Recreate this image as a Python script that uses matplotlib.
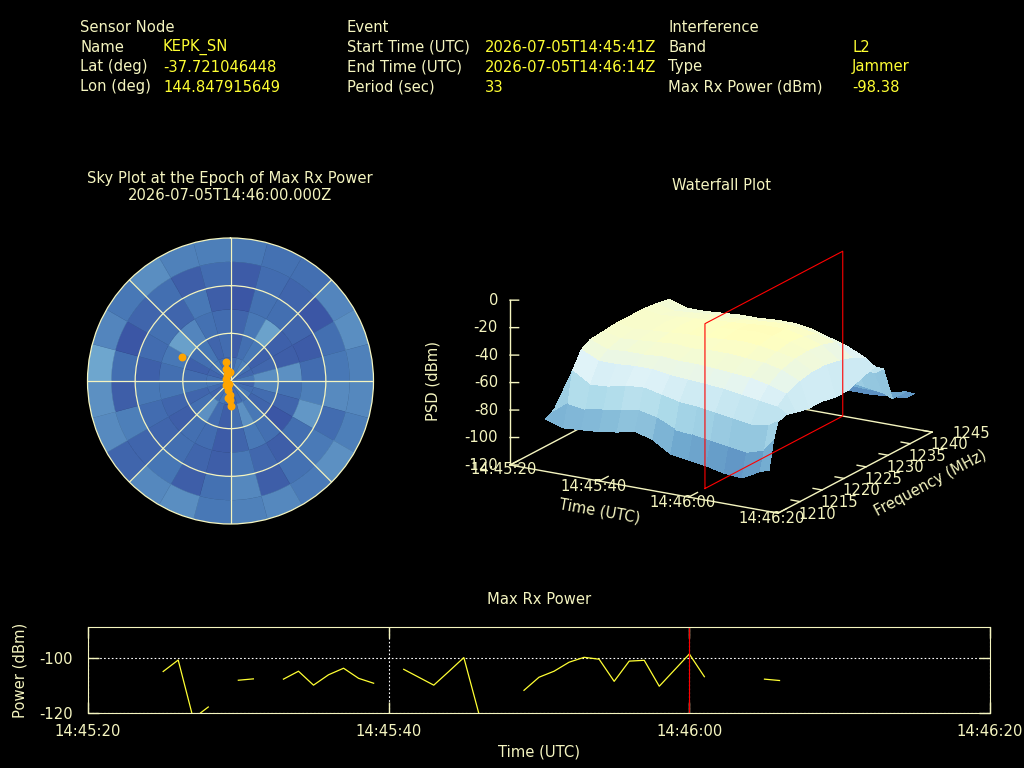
import numpy as np
import matplotlib
matplotlib.use('Agg')
import matplotlib.pyplot as plt
from mpl_toolkits.mplot3d import proj3d

FG = '#f5f5c0'
YEL = '#ffff33'
cmap = plt.get_cmap('RdYlBu_r')
norm = plt.Normalize(-120, 66)

# header block
col1 = ['Sensor Node', 'Name', 'Lat (deg)', 'Lon (deg)']
val1 = ['', 'KEPK_SN', '-37.721046448', '144.847915649']
col2 = ['Event', 'Start Time (UTC)', 'End Time (UTC)', 'Period (sec)']
val2 = ['', '2026-07-05T14:45:41Z', '2026-07-05T14:46:14Z', '33']
col3 = ['Interference', 'Band', 'Type', 'Max Rx Power (dBm)']
val3 = ['', 'L2', 'Jammer', '-98.38']

# max rx power, seconds after 14:45:20
power_t = [5, 6, 7, 8, 9, 10, 11, 12, 13, 14, 15, 16, 17, 18, 19, 20, 21, 22, 23, 24, 25, 26, 27, 28,
           29, 30, 31, 32, 33, 34, 35, 36, 37, 38, 39, 40, 41, 42, 43, 44, 45, 46]
power_db = [-104.8, -100.6, -122, -117.8, np.nan, -108, -107.5, np.nan, -107.6, -104.7, -109.8, -106,
            -103.6, -107.3, -109.1, np.nan, -104, -106.9, -109.8, -104.8, -99.7, -120.2, np.nan, np.nan,
            -111.7, -106.9, -104.7, -101.4, -99.6, -100.3, -108.4, -101, -100.7, -110.2, -104.3, -98.4,
            -106.7, np.nan, np.nan, np.nan, -107.6, -108.1]
time_labels = ['14:45:20', '14:45:40', '14:46:00', '14:46:20']
time_ticks = [0, 20, 40, 60]

# sky plot cells, rows are zenith-angle rings, columns 15 deg azimuth sectors
ring_edges = [0, 15, 30, 45, 60, 75, 90]
sky_db = [
    [-104, -100, -98, -103, -105, -100, -106, -104, -100, -102, -104, -106, -104, -101, -103, -106, -104, -100, -103, -106, -104, -101, -103, -105],
    [-108, -103, -100, -107, -105, -93, -96, -104, -106, -100, -92, -103, -108, -104, -92, -103, -106, -100, -104, -107, -103, -101, -106, -104],
    [-106, -100, -86, -107, -108, -92, -102, -106, -110, -103, -100, -106, -109, -104, -103, -108, -106, -101, -103, -100, -87, -96, -102, -104],
    [-110, -102, -103, -106, -109, -104, -98, -90, -103, -108, -105, -100, -108, -106, -103, -106, -104, -100, -107, -104, -102, -106, -100, -108],
    [-109, -104, -106, -110, -103, -100, -94, -104, -99, -102, -108, -95, -102, -108, -101, -106, -98, -108, -103, -110, -106, -103, -108, -104],
    [-100, -102, -103, -96, -93, -97, -95, -98, -92, -99, -95, -97, -100, -93, -95, -106, -94, -92, -85, -96, -100, -93, -97, -98],
]

# signal markers on the sky plot
sat_az = [296, 347, 347, 354, 331, 293, 225, 194, 184, 182, 179, 200, 340, 188]
sat_zen = [34, 12, 6.7, 5.9, 4.3, 3.2, 3.6, 5.8, 8.8, 12, 15.7, 2, 8, 10.5]

# waterfall, rows are seconds after 14:45:20, columns MHz
wf_t = [8, 12, 16, 20, 24, 28, 32, 36, 40, 44, 48, 52, 56, 58]
wf_f = [1210, 1211, 1212, 1214, 1216, 1219, 1222, 1225, 1228, 1231, 1234, 1236, 1238, 1241, 1243]
wf_db = [
    [-82, -80, -78, -74, -72, -70, -68, -66, -64, -62, -62, -60, -62, -75, -90],
    [-86, -70, -48, -36, -32, -31, -30, -30, -30, -31, -33, -50, -70, -85, -95],
    [-85, -72, -56, -42, -37, -34, -32, -31, -32, -34, -37, -55, -75, -88, -96],
    [-84, -70, -55, -42, -36, -33, -31, -30, -31, -33, -37, -56, -76, -87, -95],
    [-82, -68, -52, -41, -36, -32, -30, -29, -30, -32, -36, -54, -74, -86, -95],
    [-79, -66, -51, -41, -35, -31, -29, -28, -29, -32, -35, -53, -73, -85, -94],
    [-83, -69, -54, -43, -36, -32, -29, -27, -28, -31, -35, -52, -72, -86, -95],
    [-91, -75, -57, -44, -36, -31, -28, -26, -27, -30, -34, -52, -72, -86, -96],
    [-93, -76, -58, -45, -37, -31, -27, -25, -26, -29, -34, -52, -73, -87, -95],
    [-95, -78, -60, -46, -38, -32, -28, -26, -26, -30, -36, -55, -75, -87, -96],
    [-98, -80, -62, -48, -39, -33, -30, -28, -29, -32, -40, -58, -78, -88, -96],
    [-99, -82, -64, -50, -42, -36, -33, -32, -33, -36, -44, -62, -80, -88, -95],
    [-92, -78, -62, -52, -46, -42, -40, -40, -42, -45, -50, -64, -82, -87, -94],
    [-90, -70, -58, -56, -58, -60, -60, -62, -62, -58, -55, -60, -85, -85, -90],
]
freq_ticks = [1210, 1215, 1220, 1225, 1230, 1235, 1240, 1245]
psd_ticks = [0, -20, -40, -60, -80, -100, -120]
epoch_t = 40
plane_f = [1213.7, 1245]

W, H = 1024, 768
plt.rcParams['font.size'] = 10.6
fig = plt.figure(figsize=(W / 100, H / 100), dpi=100, facecolor='black')

# overlay in pixel coordinates for the free text
over = fig.add_axes([0, 0, 1, 1], facecolor='none')
over.set_xlim(0, W)
over.set_ylim(H, 0)
over.axis('off')

rows_y = [27, 47, 67, 87]
for names, vals, x0, x1 in [(col1, val1, 80, 163), (col2, val2, 347, 485), (col3, val3, 668, 852)]:
    for name, val, y in zip(names, vals, rows_y):
        over.text(x0, y, name, color=FG, va='center')
        over.text(x1, y, val, color=YEL, va='center')

over.text(230, 178, 'Sky Plot at the Epoch of Max Rx Power', color=FG, ha='center', va='center')
over.text(230, 196, '2026-07-05T14:46:00.000Z', color=FG, ha='center', va='center')
over.text(722, 185, 'Waterfall Plot', color=FG, ha='center', va='center')
over.text(539, 600, 'Max Rx Power', color=FG, ha='center', va='center')

# sky plot
ax = fig.add_axes([87.5 / W, (H - 524) / H, 286 / W, 286 / H], projection='polar', facecolor='black')
ax.set_theta_zero_location('N')
ax.set_theta_direction(-1)
sky = np.array(sky_db)
az_width = 2 * np.pi / sky.shape[1]
for i in range(sky.shape[0]):
    for j in range(sky.shape[1]):
        ax.bar((j + 0.5) * az_width, ring_edges[i + 1] - ring_edges[i], az_width, bottom=ring_edges[i],
               color=cmap(norm(sky[i, j])), edgecolor=cmap(norm(sky[i, j])), linewidth=0.3)
ax.scatter(np.deg2rad(sat_az), sat_zen, s=22, color='orange', zorder=5)
ax.set_rlim(0, 90)
ax.set_rgrids([30, 60], labels=[])
ax.set_thetagrids(range(0, 360, 45), labels=[])
ax.grid(True, color=FG, lw=0.9)
ax.set_axisbelow(False)
ax.spines['polar'].set_color(FG)
ax.spines['polar'].set_linewidth(0.9)

# waterfall
ax3 = fig.add_axes([0.4, 0.25, 0.55, 0.55], projection='3d', facecolor='none', computed_zorder=False)
ax3.set_proj_type('ortho')
ax3.view_init(elev=17.9, azim=-59.7)
ax3.set_box_aspect((310, 305, 173))
ax3.set_xlim(0, 60)
ax3.set_ylim(1210, 1245)
ax3.set_zlim(-120, 0)
ax3.set_axis_off()


def screen(t, f, z):
    x, y, _ = proj3d.proj_transform(t, f, z, ax3.get_proj())
    return ax3.transData.transform((x, y))


# fit the 3d box onto the reference corners
fig.canvas.draw()
span = screen(60, 1210, -120)[0] - screen(0, 1210, -120)[0]
pos = ax3.get_position(original=True)
scale = 268 / span
ax3.set_position([pos.x0, pos.y0, pos.width * scale, pos.height * scale])
fig.canvas.draw()
corner = screen(0, 1210, -120)
pos = ax3.get_position(original=True)
ax3.set_position([pos.x0 + (510 - corner[0]) / W, pos.y0 + ((H - 465) - corner[1]) / H, pos.width, pos.height])
fig.canvas.draw()


def label3d(t, f, z, s, dx, dy, **kw):
    x, y, _ = proj3d.proj_transform(t, f, z, ax3.get_proj())
    ax3.annotate(s, (x, y), xytext=(dx, dy), textcoords='offset pixels', color=FG, va='center',
                 annotation_clip=False, **kw)


# floor and z axis
for ts, fs, zs in [([0, 60], [1210, 1210], [-120, -120]), ([60, 60], [1210, 1245], [-120, -120]),
                   ([0, 60], [1245, 1245], [-120, -120]), ([0, 0], [1210, 1245], [-120, -120]),
                   ([0, 0], [1210, 1210], [-120, 0])]:
    ax3.plot(ts, fs, zs, color=FG, lw=1, zorder=1)

for t, lab in zip(time_ticks, time_labels):
    ax3.plot([t, t], [1210, 1212], [-120, -120], color=FG, lw=1, zorder=1)
    label3d(t, 1210, -120, lab, -6, -5, ha='center')
for f in freq_ticks:
    ax3.plot([60, 58], [f, f], [-120, -120], color=FG, lw=1, zorder=1)
    label3d(60, f, -120, str(f), 39, -1, ha='center')
for z in psd_ticks:
    ax3.plot([0, 1.44], [1210, 1210.5], [z, z], color=FG, lw=1, zorder=1)
    label3d(0, 1210, z, str(z), -12, 0, ha='right')

T, F = np.meshgrid(wf_t, wf_f, indexing='ij')
ax3.plot_surface(T, F, np.array(wf_db), cmap=cmap, norm=norm, rstride=1, cstride=1,
                 linewidth=0, antialiased=False, shade=False, zorder=2)

ax3.plot([epoch_t, epoch_t, epoch_t, epoch_t, epoch_t],
         [plane_f[0], plane_f[1], plane_f[1], plane_f[0], plane_f[0]],
         [-120, -120, 0, 0, -120], color='red', lw=0.8, zorder=3)

over.text(600, 511, 'Time (UTC)', color=FG, rotation=-10, ha='center', va='center')
over.text(930, 483, 'Frequency (MHz)', color=FG, rotation=28, ha='center', va='center')
over.text(433, 381, 'PSD (dBm)', color=FG, rotation=90, ha='center', va='center')

# max rx power strip
ax2 = fig.add_axes([88 / W, (H - 713) / H, 902 / W, 86 / H], facecolor='none')
ax2.plot(power_t, power_db, color=YEL, lw=0.9)
ax2.set_xlim(0, 60)
ax2.set_ylim(-120, -88.5)
ax2.set_xticks(time_ticks, time_labels)
ax2.set_yticks([-100, -120], ['-100', '-120'])
ax2.grid(True, color='white', ls=(0, (1.5, 2)), lw=0.8)
ax2.axvline(epoch_t, color='red', lw=0.8)
ax2.tick_params(colors=FG, direction='in', length=8, width=1, top=True, right=True, pad=8)
ax2.tick_params(axis='y', pad=11)
ax2.set_xlabel('Time (UTC)', color=FG, labelpad=4)
ax2.set_ylabel('Power (dBm)', color=FG, labelpad=8)
for s in ax2.spines.values():
    s.set_color(FG)

fig.savefig('out.png', dpi=100, facecolor='black')
